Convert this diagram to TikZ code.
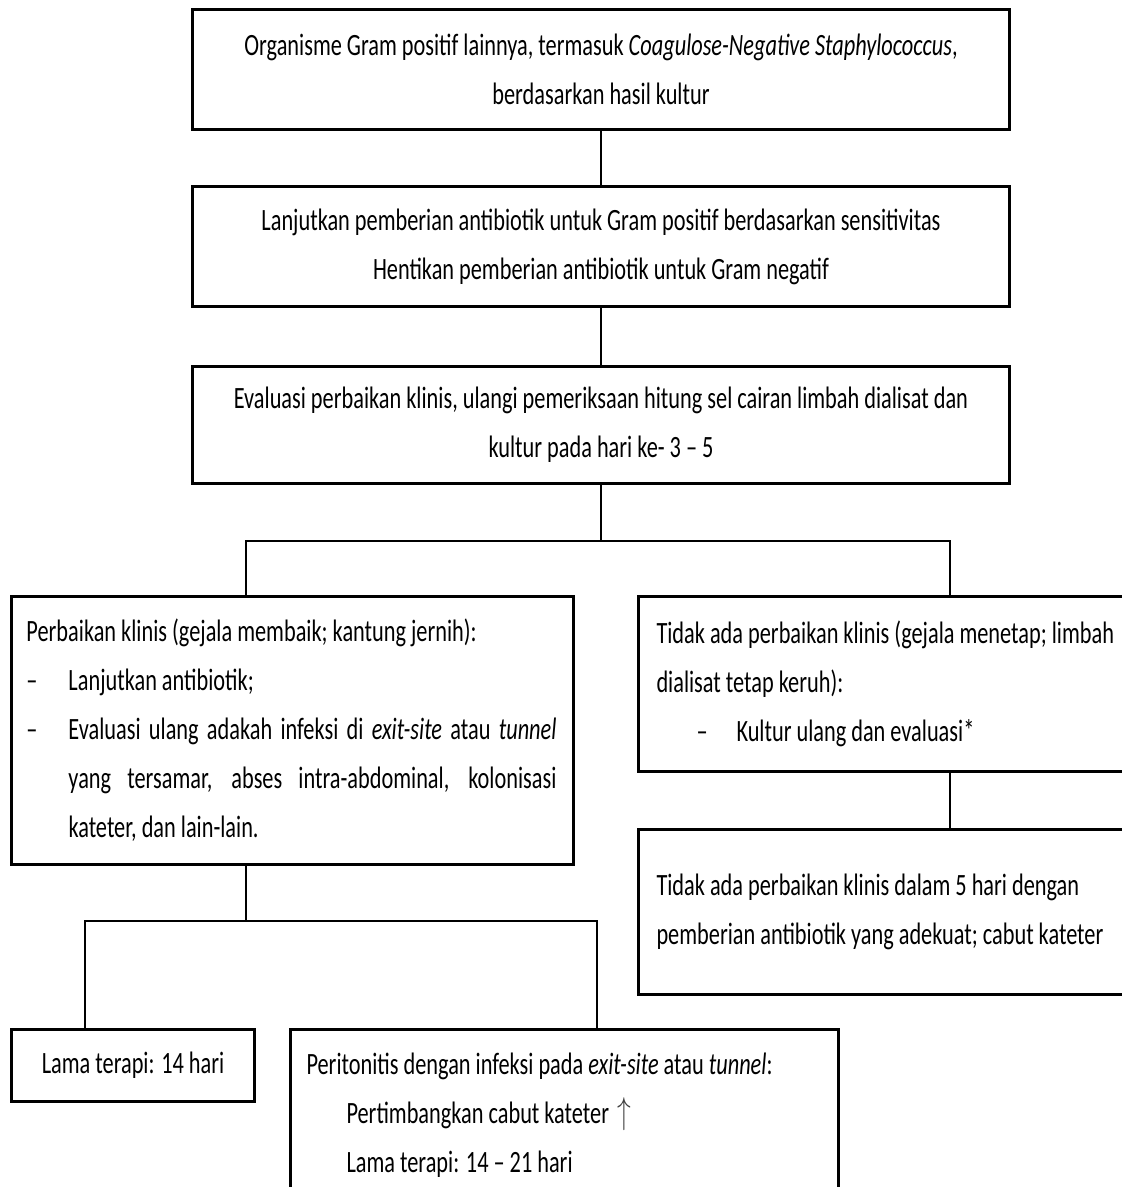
\documentclass[tikz,border=0pt]{standalone}
\usepackage{fontspec}
\setmainfont{Carlito}[FakeStretch=0.72]
\usepackage{tikz}
\DeclareRobustCommand\boxfont{\fontsize{31}{49}\selectfont\spaceskip=5pt plus 3pt minus 1pt\relax}
\newcommand\midtext[1]{\parbox{797pt}{\boxfont\centering #1}}
\newcommand\lefttext[2]{\parbox{#1}{\boxfont\raggedright #2}}

\begin{document}
\begin{tikzpicture}[x=1pt, y=-1pt,
		box/.style={draw, line width=3pt, anchor=north west, inner ysep=0pt, font=\boxfont},
		link/.style={line width=2pt}]
		\useasboundingbox (0, 0) rectangle (1122, 1187);
		\clip (0, 0) rectangle (1122, 1187);

		\node [box, inner xsep=10pt, minimum height=120pt] (gram) at (191, 8)
			{\midtext{Organisme Gram positif lainnya, termasuk \textit{Coagulose-Negative Staphylococcus},\\ berdasarkan hasil kultur}};
		\node [box, inner xsep=10pt, minimum height=120pt] (lanjut) at (191, 185)
			{\midtext{Lanjutkan pemberian antibiotik untuk Gram positif berdasarkan sensitivitas\\ Hentikan pemberian antibiotik untuk Gram negatif}};
		\node [box, inner xsep=10pt, minimum height=117pt] (evaluasi) at (191, 365)
			{\midtext{Evaluasi perbaikan klinis, ulangi pemeriksaan hitung sel cairan limbah dialisat dan\\ kultur pada hari ke- 3 – 5}};

		\node [box, inner xsep=15pt, minimum height=268pt] (membaik) at (10, 595)
			{\lefttext{532pt}{Perbaikan klinis (gejala membaik; kantung jernih):\\
			\makebox[42pt][l]{–}Lanjutkan antibiotik;\\
			\makebox[42pt][l]{–}\makebox[488pt][s]{Evaluasi ulang adakah infeksi di \textit{exit-site} atau \textit{tunnel}}\\
			\hspace*{42pt}\makebox[488pt][s]{yang tersamar, abses intra-abdominal, kolonisasi}\\
			\hspace*{42pt}kateter, dan lain-lain.}};
		\node [box, inner xsep=18pt, minimum height=175pt] (tetap) at (637, 595)
			{\lefttext{540pt}{Tidak ada perbaikan klinis (gejala menetap; limbah\\
			dialisat tetap keruh):\\
			\hspace*{40pt}\makebox[40pt][l]{–}Kultur ulang dan evaluasi*}};
		\node [box, inner xsep=18pt, minimum height=165pt] (cabut) at (637, 828)
			{\lefttext{540pt}{Tidak ada perbaikan klinis dalam 5 hari dengan\\
			pemberian antibiotik yang adekuat; cabut kateter}};

		\node [box, minimum width=243pt, minimum height=72pt] (singkat) at (10, 1028)
			{Lama terapi: 14 hari};
		\node [box, inner xsep=16pt, minimum height=172pt] (kateter) at (289, 1028)
			{\lefttext{516pt}{Peritonitis dengan infeksi pada \textit{exit-site} atau \textit{tunnel}:\\
			\hspace*{40pt}Pertimbangkan cabut kateter\hspace{8pt}\textcolor{black!75}{\scalebox{1.1}[1.5]{$\uparrow$}}\\
			\hspace*{40pt}Lama terapi: 14 – 21 hari}};

		\draw [link] (gram.south) -- (lanjut.north);
		\draw [link] (lanjut.south) -- (evaluasi.north);
		\draw [link] (evaluasi.south) -- ++(0, 56) coordinate (fork1);
		\draw [link] ([xshift=236pt]membaik.north west) |- (fork1) -| ([xshift=313pt]tetap.north west);
		\draw [link] ([xshift=313pt]tetap.south west) -- ([xshift=313pt]cabut.north west);
		\draw [link] ([xshift=236pt]membaik.south west) -- ++(0, 55) coordinate (fork2);
		\draw [link] ([xshift=75pt]singkat.north west) |- (fork2) -| ([xshift=308pt]kateter.north west);
	\end{tikzpicture}
\end{document}
